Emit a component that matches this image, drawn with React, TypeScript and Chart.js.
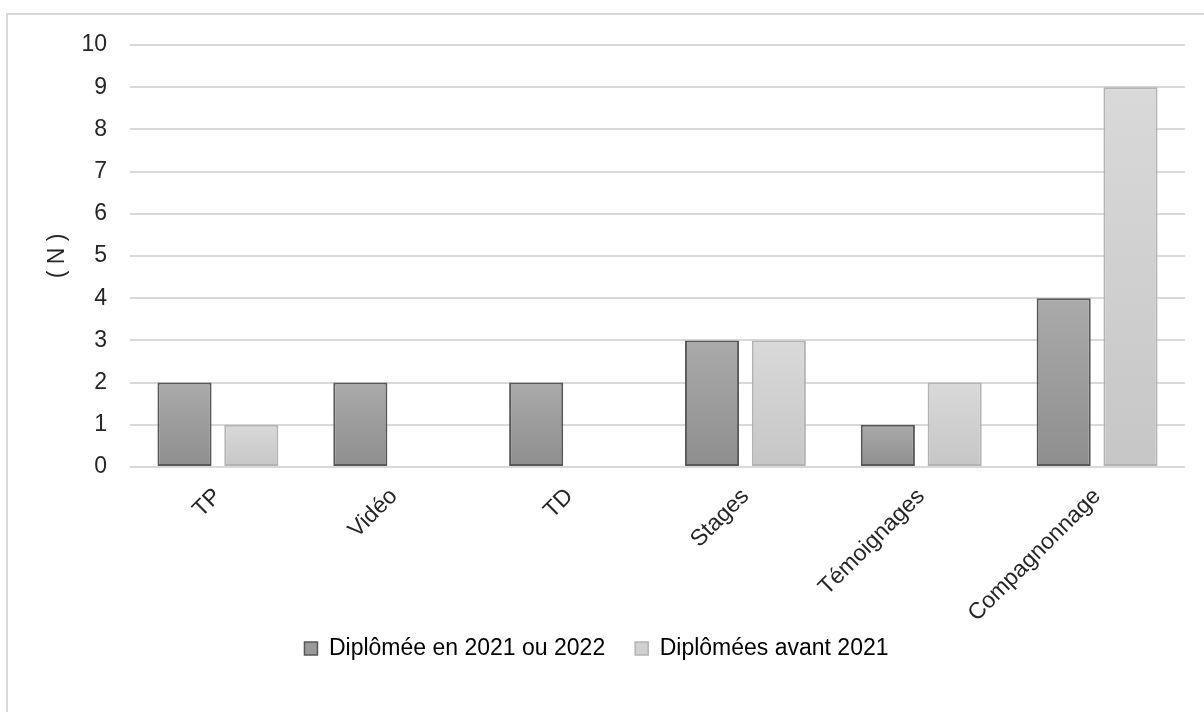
import React, { useEffect, useRef } from "react";
import { Chart, registerables } from "chart.js";

Chart.register(...registerables);

const categories = ["TP", "Vidéo", "TD", "Stages", "Témoignages", "Compagnonnage"];
const seriesNames = ["Diplômée en 2021 ou 2022", "Diplômées avant 2021"];
const recentValues = [2, 2, 2, 3, 1, 4];
const olderValues = [1, 0, 0, 3, 2, 9];
const yTicks = [0, 1, 2, 3, 4, 5, 6, 7, 8, 9, 10];

const FONT = "'Liberation Sans', Arial, sans-serif";
const FS = 23;

function gradientFor(top: string, bottom: string) {
  return (ctx: any) => {
    const chart = ctx.chart;
    const y = chart.scales?.y;
    if (!y || ctx.type !== "data") return bottom;
    const v = ctx.parsed?.y ?? 0;
    const yTop = y.getPixelForValue(v);
    const yBase = y.getPixelForValue(0);
    if (!isFinite(yTop) || !isFinite(yBase) || yTop === yBase) return bottom;
    const g = chart.ctx.createLinearGradient(0, yTop, 0, yBase);
    g.addColorStop(0, top);
    g.addColorStop(1, bottom);
    return g;
  };
}

export default function App() {
  const ref = useRef<HTMLCanvasElement>(null);
  useEffect(() => {
    document.body.style.margin = "0";
    document.body.style.overflow = "hidden";
    const chart = new Chart(ref.current!, {
      type: "bar",
      data: {
        labels: categories,
        datasets: [
          {
            label: seriesNames[0],
            data: recentValues,
            backgroundColor: gradientFor("#aaaaaa", "#8e8e8e"),
            borderColor: "#575757",
            borderWidth: 2,
            borderSkipped: false,
            categoryPercentage: 0.76,
            barPercentage: 0.81,
          },
          {
            label: seriesNames[1],
            data: olderValues,
            backgroundColor: gradientFor("#d9d9d9", "#c6c6c6"),
            borderColor: "#b3b3b3",
            borderWidth: 2,
            borderSkipped: false,
            categoryPercentage: 0.76,
            barPercentage: 0.81,
          },
        ],
      },
      options: {
        animation: false,
        responsive: false,
        maintainAspectRatio: false,
        layout: { padding: { top: 30, right: 19, bottom: 42, left: 0 } },
        plugins: {
          tooltip: { enabled: false },
          legend: {
            position: "bottom",
            labels: {
              font: { family: FONT, size: FS },
              color: "#262626",
              boxWidth: 13,
              boxHeight: 13,
              padding: 30,
              generateLabels: () => [
                { text: seriesNames[0], fillStyle: "#9a9a9a", strokeStyle: "#575757", lineWidth: 1.5, datasetIndex: 0, hidden: false },
                { text: seriesNames[1], fillStyle: "#d0d0d0", strokeStyle: "#b3b3b3", lineWidth: 1.5, datasetIndex: 1, hidden: false },
              ] as any,
            },
          },
        },
        scales: {
          x: {
            grid: { display: false },
            border: { display: false },
            ticks: {
              font: { family: FONT, size: FS },
              color: "#262626",
              maxRotation: 45,
              minRotation: 45,
              padding: 8,
              autoSkip: false,
            },
            afterFit: (s: any) => {
              s.height = 140;
              s.paddingTop = 0;
              s.paddingBottom = 0;
              s._computeLabelArea = () => undefined;
            },
          },
          y: {
            min: 0,
            max: 10,
            afterBuildTicks: (s: any) => {
              s.ticks = yTicks.map((v) => ({ value: v }));
            },
            grid: { color: "#d9d9d9", lineWidth: 2, drawTicks: false },
            border: { display: false },
            ticks: {
              font: { family: FONT, size: FS },
              color: "#262626",
              padding: 23,
            },
            title: {
              display: true,
              text: "( N )",
              font: { family: FONT, size: FS },
              color: "#262626",
              padding: { top: 36, bottom: 0 },
            },
            afterFit: (s: any) => {
              s.width = 122;
              s.paddingTop = 0;
              s.paddingBottom = 0;
            },
          },
        },
      },
    });
    return () => chart.destroy();
  }, []);
  return (
    <div
      style={{
        position: "absolute",
        left: 6,
        top: 13,
        width: 1198,
        height: 699,
        borderLeft: "2px solid #d9d9d9",
        borderTop: "2px solid #d9d9d9",
        boxSizing: "border-box",
        background: "#fff",
      }}
    >
      <canvas ref={ref} width={1196} height={697} style={{ display: "block" }} />
    </div>
  );
}
